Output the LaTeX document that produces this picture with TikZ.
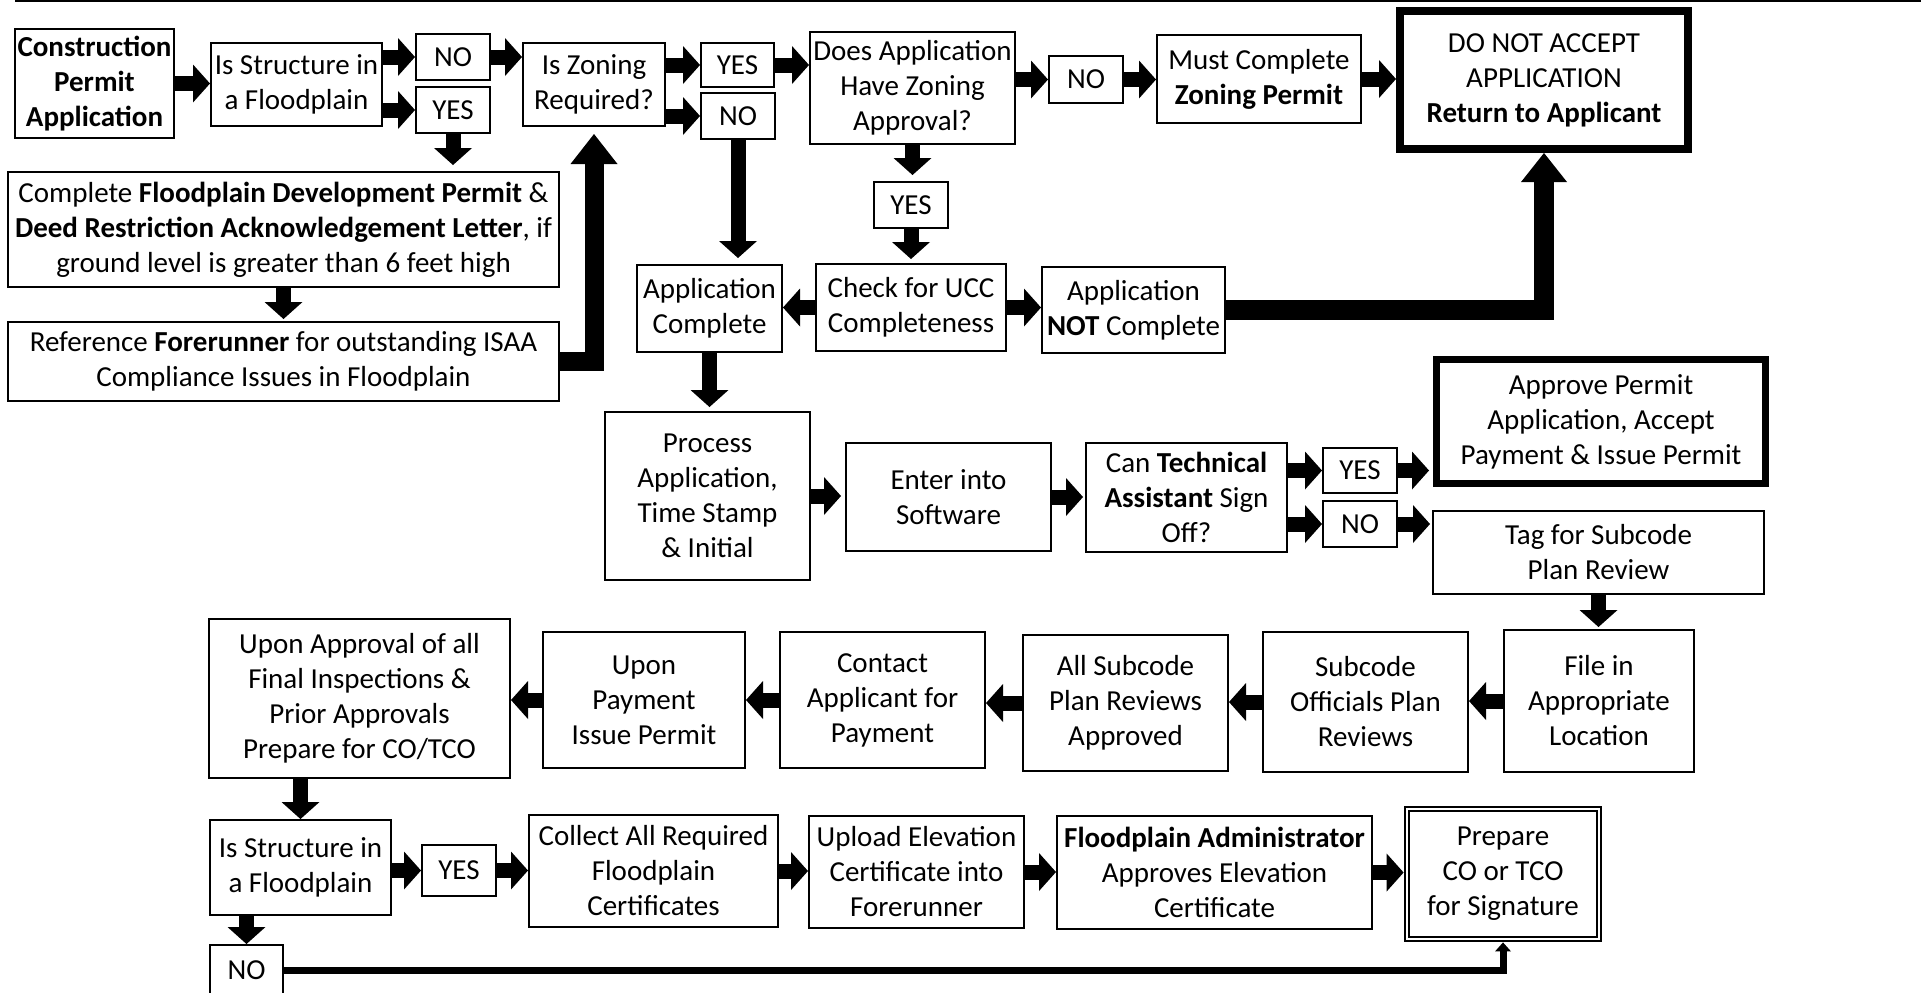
\documentclass[tikz,border=0pt]{standalone}
\usepackage{fontspec}
\setmainfont{Carlito}
\usetikzlibrary{arrows.meta,calc}
\newcommand{\myfs}{\fontsize{14.5}{17.5}\selectfont}
\newcommand{\bx}[7][]{\node[box,#1,minimum width={(#4-#2)*0.5pt},minimum height={(#5-#3)*0.5pt}] (#6) at ({(#2+#4)/2},{(#3+#5)/2}) {#7};}
\tikzset{
  box/.style={draw, line width=1pt, align=center, inner sep=1pt, font=\myfs},
  thickbox/.style={line width=4pt},
  apvbox/.style={line width=3.5pt},
  dblbox/.style={double, double distance=1.25pt, line width=1pt, outer sep=1.7pt},
  fa/.style={line width=7.5pt, -{Triangle[width=19pt,length=8.5pt,line width=0pt 0 0]}},
  fab/.style={line width=9.5pt, -{Triangle[width=23.5pt,length=15pt,line width=0pt 0 0]}},
  fabc/.style={line width=10pt, -{Triangle[width=23pt,length=14.5pt,line width=0pt 0 0]}},
  fan/.style={line width=3.5pt, -{Triangle[width=8pt,length=4.5pt,line width=0pt 0 0]}},
}
\begin{document}
\begin{tikzpicture}[x=0.5pt,y=-0.5pt]
\useasboundingbox (0,0) rectangle (1926,992);
\fill[white] (0,0) rectangle (1926,992);
\draw[line width=1.25pt] (15,1.2) -- (1921,1.2);

% row 1
\bx{15}{29}{174}{138}{cpa}{\textbf{Construction}\\\textbf{Permit}\\\textbf{Application}}
\bx{211}{43}{382}{126}{isf}{Is Structure in\\a Floodplain}
\bx{416}{34}{490}{80}{noA}{NO}
\bx{416}{87}{490}{133}{yesA}{YES}
\bx{523}{43}{665}{126}{izr}{Is Zoning\\Required?}
\bx{8}{172}{559}{287}{cfd}{Complete \textbf{Floodplain Development Permit} \&\\\textbf{Deed Restriction Acknowledgement Letter}, if\\ground level is greater than 6 feet high}
\bx{8}{322}{559}{401}{ref}{Reference \textbf{Forerunner} for outstanding ISAA\\Compliance Issues in Floodplain}
\bx{701}{43}{774}{87}{yesB}{YES}
\bx{701}{93}{775}{139}{noB}{NO}
\bx{810}{32}{1015}{144}{dah}{Does Application\\Have Zoning\\Approval?}
\bx{1049}{56}{1123}{103}{noC}{NO}
\bx{1157}{35}{1361}{123}{mcz}{Must Complete\\\textbf{Zoning Permit}}
\bx[thickbox]{1400}{11}{1688}{149}{dna}{DO NOT ACCEPT\\APPLICATION\\\textbf{Return to Applicant}}
\bx{874}{182}{948}{228}{yesC}{YES}
\bx{816}{264}{1006}{351}{ucc}{Check for UCC\\Completeness}
\bx{637}{265}{782}{352}{apc}{Application\\Complete}
\bx{1042}{267}{1225}{353}{anc}{Application\\\textbf{NOT} Complete}

% row 2
\bx{605}{412}{810}{580}{pro}{Process\\Application,\\Time Stamp\\\& Initial}
\bx{846}{443}{1051}{551}{ent}{Enter into\\Software}
\bx{1086}{443}{1287}{552}{cta}{Can \textbf{Technical}\\\textbf{Assistant} Sign\\Off?}
\bx{1323}{448}{1397}{493}{yesD}{YES}
\bx{1323}{501}{1397}{547}{noD}{NO}
\bx[apvbox]{1436.5}{359.5}{1765.5}{483.5}{apv}{Approve Permit\\Application, Accept\\Payment \& Issue Permit}
\bx{1433}{511}{1764}{594}{tag}{Tag for Subcode\\Plan Review}

% row 3
\bx{1504}{630}{1694}{772}{fil}{File in\\Appropriate\\Location}
\bx{1263}{632}{1468}{772}{sop}{Subcode\\Officials Plan\\Reviews}
\bx{1023}{635}{1228}{771}{asr}{All Subcode\\Plan Reviews\\Approved}
\bx{780}{632}{985}{768}{cap}{Contact\\Applicant for\\Payment}
\bx{543}{632}{745}{768}{upi}{Upon\\Payment\\Issue Permit}
\bx{209}{619}{510}{778}{uaa}{Upon Approval of all\\Final Inspections \&\\Prior Approvals\\Prepare for CO/TCO}

% row 4
\bx{210}{820}{391}{915}{isfB}{Is Structure in\\a Floodplain}
\bx{422}{845}{496}{896}{yesE}{YES}
\bx{529}{815}{778}{927}{col}{Collect All Required\\Floodplain\\Certificates}
\bx{809}{816}{1024}{928}{upl}{Upload Elevation\\Certificate into\\Forerunner}
\bx{1057}{816}{1372}{929}{fpa}{\textbf{Floodplain Administrator}\\Approves Elevation\\Certificate}
\bx[dblbox]{1407}{809}{1599}{939}{pco}{Prepare\\CO or TCO\\for Signature}
\bx{210}{945}{283}{996}{noE}{NO}

% connectors row 1
\draw[fa] (cpa.east) -- (cpa.east -| isf.west);
\draw[fa] (isf.east |- noA) -- (noA.west);
\draw[fa] (isf.east |- yesA) -- (yesA.west);
\draw[fa] (noA.east) -- (noA.east -| izr.west);
\draw[fa,shorten >=3pt] (yesA.south) -- (yesA.south |- cfd.north);
\draw[fa,shorten >=1pt] (cfd.south) -- (ref.north);
\draw[fab,shorten >=3.5pt] (ref.east) -| (izr.south);
\draw[fa] (izr.east |- yesB) -- (yesB.west);
\draw[fa] (izr.east |- noB) -- (noB.west);
\draw[fa] (yesB.east) -- (yesB.east -| dah.west);
\draw[fa,shorten >=3pt] (noB.south) -- (noB.south |- apc.north);
\draw[fa] (dah.east |- noC) -- (noC.west);
\draw[fa] (noC.east) -- (noC.east -| mcz.west);
\draw[fa] (mcz.east) -- (mcz.east -| dna.west);
\draw[fa,shorten >=3pt] (dah.south) -- (dah.south |- yesC.north);
\draw[fa,shorten >=2pt] (yesC.south) -- (yesC.south |- ucc.north);
\draw[fa] (ucc.west) -- (ucc.west -| apc.east);
\draw[fa] (ucc.east) -- (ucc.east -| anc.west);
\draw[fabc] (anc.east) -| (dna.south);
\draw[fa,shorten >=2pt] (apc.south) -- (apc.south |- pro.north);

% connectors row 2
\draw[fa,shorten >=2pt] (pro.east) -- (pro.east -| ent.west);
\draw[fa,shorten >=1pt] (ent.east) -- (ent.east -| cta.west);
\draw[fa] (cta.east |- yesD) -- (yesD.west);
\draw[fa] (cta.east |- noD) -- (noD.west);
\draw[fa,shorten >=2pt] (yesD.east) -- (yesD.east -| apv.west);
\draw[fa,shorten >=1pt] (noD.east) -- (noD.east -| tag.west);
\draw[fa,shorten >=1pt] (tag.south) -- (tag.south |- fil.north);

% connectors row 3
\draw[fa] (fil.west) -- (fil.west -| sop.east);
\draw[fa] (sop.west) -- (sop.west -| asr.east);
\draw[fa] (asr.west) -- (asr.west -| cap.east);
\draw[fa] (cap.west) -- (cap.west -| upi.east);
\draw[fa] (upi.west) -- (upi.west -| uaa.east);
\draw[fa] (isfB.north |- uaa.south) -- (isfB.north);

% connectors row 4
\draw[fa] (isfB.east |- yesE) -- (yesE.west);
\draw[fa] (yesE.east) -- (yesE.east -| col.west);
\draw[fa] (col.east) -- (col.east -| upl.west);
\draw[fa] (upl.east) -- (upl.east -| fpa.west);
\draw[fa] (fpa.east) -- (fpa.east -| pco.west);
\draw[fa] (noE.north |- isfB.south) -- (noE.north);
\draw[fan] (noE.east) -| (pco.south);
\end{tikzpicture}
\end{document}
